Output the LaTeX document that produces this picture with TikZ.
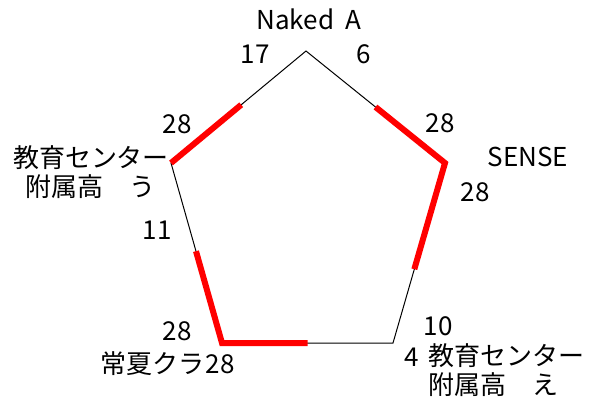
\documentclass[tikz,border=0pt]{standalone}
\usepackage{fontspec}
\setmainfont{Noto Sans CJK JP}
\usetikzlibrary{calc}
\begin{document}
\begin{tikzpicture}[x=1pt,y=-1pt,
  lbl/.style={font=\fontsize{26}{29}\selectfont, inner sep=1pt},
  edge/.style={black, line width=1pt},
  win/.style={red, line width=6pt, line cap=butt, line join=miter}]
\useasboundingbox (0,0) rectangle (598,416);
\coordinate (T) at (306,51);
\coordinate (R) at (445,163);
\coordinate (BR) at (393,343);
\coordinate (BL) at (222,343);
\coordinate (L) at (171,163);
\draw[edge] (T) -- (R) -- (BR) -- (BL) -- (L) -- cycle;
\draw[win] (L) -- ($(L)!0.52!(T)$);
\draw[win] ($(T)!0.5!(R)$) -- (R) -- ($(R)!0.59!(BR)$);
\draw[win] ($(BL)!0.51!(L)$) -- (BL) -- ($(BL)!0.5!(BR)$);
% labels
\node[lbl] (nA) at (309,19) {Naked\ \ A};
\node[lbl] (n17) at (255,54) {17};
\node[lbl] (n6) at (364,54) {6};
\node[lbl] (s1) at (440,123) {28};
\node[lbl] (nS) at (528,157) {SENSE};
\node[lbl] (s2) at (475,192) {28};
\node[lbl] (n10) at (438,326) {10};
\node[lbl] (n4) at (412,357) {4};
\node[lbl, align=left, anchor=north west] (nE) at (427,342) {教育センター\\附属高　え};
\node[lbl] (s3) at (177,331) {28};
\node[lbl, anchor=east] (nC) at (206,364) {常夏クラ};
\node[lbl, fill=white, inner xsep=3pt] (s4) at (220,364) {28};
\node[lbl] (n11) at (157,230) {11};
\node[lbl] (s5) at (177,124) {28};
\node[lbl, align=center] (nU) at (91,172) {教育センター\\附属高　う};
\end{tikzpicture}
\end{document}
